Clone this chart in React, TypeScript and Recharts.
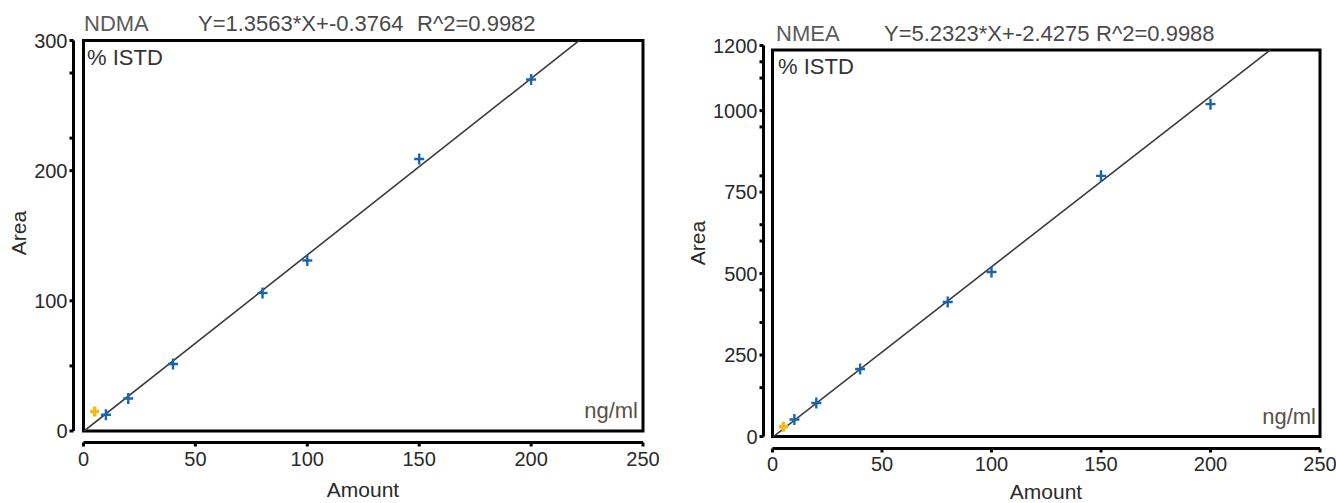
import React from "react";
import {
  ScatterChart,
  Scatter,
  XAxis,
  YAxis,
  ReferenceArea,
  ReferenceLine,
} from "recharts";

const FONT = '"Liberation Sans", Arial, sans-serif';

// calibration levels (ng/ml)
const amounts = [10, 20, 40, 80, 100, 150, 200];
const excludedAmount = [5];

// NDMA responses
const ndmaArea = [12.5, 25, 51.5, 106, 131, 209, 270];
const ndmaExcludedArea = [15];
const ndmaFitAmount = [0, 222];
const ndmaFitArea = [-0.38, 300.7];

// NMEA responses
const nmeaArea = [52, 103, 207, 413, 505, 800, 1020];
const nmeaExcludedArea = [30];
const nmeaFitAmount = [0, 227.2];
const nmeaFitArea = [-2.43, 1186];

// axis ticks
const xTicks = [0, 50, 100, 150, 200, 250];
const ndmaYTicks = [0, 50, 100, 200, 225, 275, 300];
const ndmaYLabels = [0, 100, 200, 300];
const nmeaYTicks = [0, 150, 250, 350, 450, 500, 600, 650, 750, 800, 950, 1000, 1100, 1150, 1200];
const nmeaYLabels = [0, 250, 500, 750, 1000, 1200];

const BlueCross = (props: any) => {
  const { cx, cy } = props;
  if (cx == null || cy == null) return null;
  return (
    <g stroke="#1565b0" strokeWidth={2.4}>
      <line x1={cx - 5} x2={cx + 5} y1={cy} y2={cy} />
      <line x1={cx} x2={cx} y1={cy - 5.5} y2={cy + 5.5} />
    </g>
  );
};

const OrangeCross = (props: any) => {
  const { cx, cy } = props;
  if (cx == null || cy == null) return null;
  return (
    <g stroke="#f5b914" strokeWidth={3.5}>
      <line x1={cx - 4.5} x2={cx + 4.5} y1={cy} y2={cy} />
      <line x1={cx} x2={cx} y1={cy - 5} y2={cy + 5} />
    </g>
  );
};

const XTick = ({ x, y, payload, gap, labelDy }: any) => (
  <g>
    <line x1={x} x2={x} y1={y + gap} y2={y + gap + 4} stroke="#000" strokeWidth={3} />
    <text
      x={x}
      y={y + gap + labelDy}
      textAnchor="middle"
      dominantBaseline="central"
      fontFamily={FONT}
      fontSize={20}
      fill="#2a2a2a"
    >
      {payload.value}
    </text>
  </g>
);

const YTick = ({ x, y, payload, gap, labels }: any) => (
  <g>
    <line x1={x - gap - 4} x2={x - gap} y1={y} y2={y} stroke="#000" strokeWidth={3} />
    {labels.includes(payload.value) && (
      <text
        x={x - gap - 6}
        y={y}
        textAnchor="end"
        dominantBaseline="central"
        fontFamily={FONT}
        fontSize={20}
        fill="#2a2a2a"
      >
        {payload.value}
      </text>
    )}
  </g>
);

interface PanelProps {
  left: number;
  name: string;
  equation: string;
  r2: string;
  area: number[];
  excludedArea: number[];
  fitAmount: number[];
  fitArea: number[];
  yMax: number;
  boxTop: number;
  yTicks: number[];
  yLabels: number[];
  plotTop: number;
  plotLeft: number;
  plotRight: number;
  plotBottom: number;
  xGap: number;
  yGap: number;
  labelDy: number;
  titleY: number;
  nameX: number;
  eqX: number;
  r2X: number;
  istdX: number;
  istdY: number;
  unitX: number;
  unitY: number;
  areaX: number;
  areaY: number;
  amountX: number;
  amountY: number;
}

const W = 668;
const H = 503;

const CalibrationPanel: React.FC<PanelProps> = (p) => {
  const points = amounts.map((a, i) => ({ x: a, y: p.area[i] }));
  const excluded = excludedAmount.map((a, i) => ({ x: a, y: p.excludedArea[i] }));
  const fit = p.fitAmount.map((a, i) => ({ x: a, y: p.fitArea[i] }));
  return (
    <div style={{ position: "absolute", left: p.left, top: 0, width: W, height: H }}>
      <ScatterChart
        width={W}
        height={H}
        margin={{ top: p.plotTop, right: W - p.plotRight, bottom: 0, left: 0 }}
      >
        <XAxis
          type="number"
          dataKey="x"
          domain={[0, 250]}
          ticks={xTicks}
          interval={0}
          height={H - p.plotBottom}
          tickSize={0}
          tickMargin={0}
          tickLine={false}
          axisLine={{ stroke: "#000", strokeWidth: 3, transform: `translate(0, ${p.xGap})` }}
          tick={(t: any) => <XTick {...t} gap={p.xGap} labelDy={p.labelDy} />}
          allowDataOverflow
        />
        <YAxis
          type="number"
          dataKey="y"
          domain={[0, p.yMax]}
          ticks={p.yTicks}
          interval={0}
          width={p.plotLeft}
          tickSize={0}
          tickMargin={0}
          tickLine={false}
          axisLine={{ stroke: "#000", strokeWidth: 3, transform: `translate(${-p.yGap}, 0)` }}
          tick={(t: any) => <YTick {...t} gap={p.yGap} labels={p.yLabels} />}
          allowDataOverflow
        />
        <ReferenceArea
          x1={0}
          x2={250}
          y1={0}
          y2={p.boxTop}
          fill="none"
          stroke="#000"
          strokeWidth={3}
          ifOverflow="visible"
        />
        <ReferenceLine
          segment={fit}
          stroke="#3a3a3a"
          strokeWidth={1.6}
          ifOverflow="hidden"
        />
        <Scatter data={points} shape={BlueCross} isAnimationActive={false} />
        <Scatter data={excluded} shape={OrangeCross} isAnimationActive={false} />
      </ScatterChart>
      <svg
        width={W}
        height={H}
        style={{ position: "absolute", left: 0, top: 0, pointerEvents: "none" }}
        fontFamily={FONT}
      >
        <text x={p.nameX} y={p.titleY} fontSize={22} fill="#5a5a5a">{p.name}</text>
        <text x={p.eqX} y={p.titleY} fontSize={22} fill="#4a4a4a">{p.equation}</text>
        <text x={p.r2X} y={p.titleY} fontSize={22} fill="#4a4a4a">{p.r2}</text>
        <text x={p.istdX} y={p.istdY} fontSize={22} fill="#333">% ISTD</text>
        <text x={p.unitX} y={p.unitY} fontSize={22} fill="#5a5048" textAnchor="end">ng/ml</text>
        <text
          x={p.areaX}
          y={p.areaY}
          fontSize={21}
          fill="#2a2a2a"
          textAnchor="middle"
          dominantBaseline="central"
          transform={`rotate(-90, ${p.areaX}, ${p.areaY})`}
        >
          Area
        </text>
        <text
          x={p.amountX}
          y={p.amountY}
          fontSize={21}
          fill="#2a2a2a"
          textAnchor="middle"
          dominantBaseline="central"
        >
          Amount
        </text>
      </svg>
    </div>
  );
};

const App: React.FC = () => (
  <div
    style={{
      position: "absolute",
      left: 0,
      top: 0,
      width: 1336,
      height: H,
      background: "#fff",
      overflow: "hidden",
    }}
  >
    <CalibrationPanel
      left={0}
      name="NDMA"
      equation="Y=1.3563*X+-0.3764"
      r2="R^2=0.9982"
      area={ndmaArea}
      excludedArea={ndmaExcludedArea}
      fitAmount={ndmaFitAmount}
      fitArea={ndmaFitArea}
      yMax={300}
      boxTop={300}
      yTicks={ndmaYTicks}
      yLabels={ndmaYLabels}
      plotTop={40.5}
      plotLeft={83.5}
      plotRight={643}
      plotBottom={431}
      xGap={11.5}
      yGap={10}
      labelDy={16}
      titleY={31}
      nameX={84}
      eqX={198}
      r2X={417}
      istdX={87}
      istdY={64.5}
      unitX={638}
      unitY={418}
      areaX={18}
      areaY={233}
      amountX={363}
      amountY={489}
    />
    <CalibrationPanel
      left={668}
      name="NMEA"
      equation="Y=5.2323*X+-2.4275"
      r2="R^2=0.9988"
      area={nmeaArea}
      excludedArea={nmeaExcludedArea}
      fitAmount={nmeaFitAmount}
      fitArea={nmeaFitArea}
      yMax={1200}
      boxTop={1186}
      yTicks={nmeaYTicks}
      yLabels={nmeaYLabels}
      plotTop={45.5}
      plotLeft={104.5}
      plotRight={652}
      plotBottom={436.5}
      xGap={12}
      yGap={9}
      labelDy={15}
      titleY={40.5}
      nameX={108}
      eqX={216}
      r2X={428}
      istdX={110}
      istdY={74}
      unitX={648}
      unitY={423.5}
      areaX={29}
      areaY={243}
      amountX={378}
      amountY={491}
    />
  </div>
);

export default App;
